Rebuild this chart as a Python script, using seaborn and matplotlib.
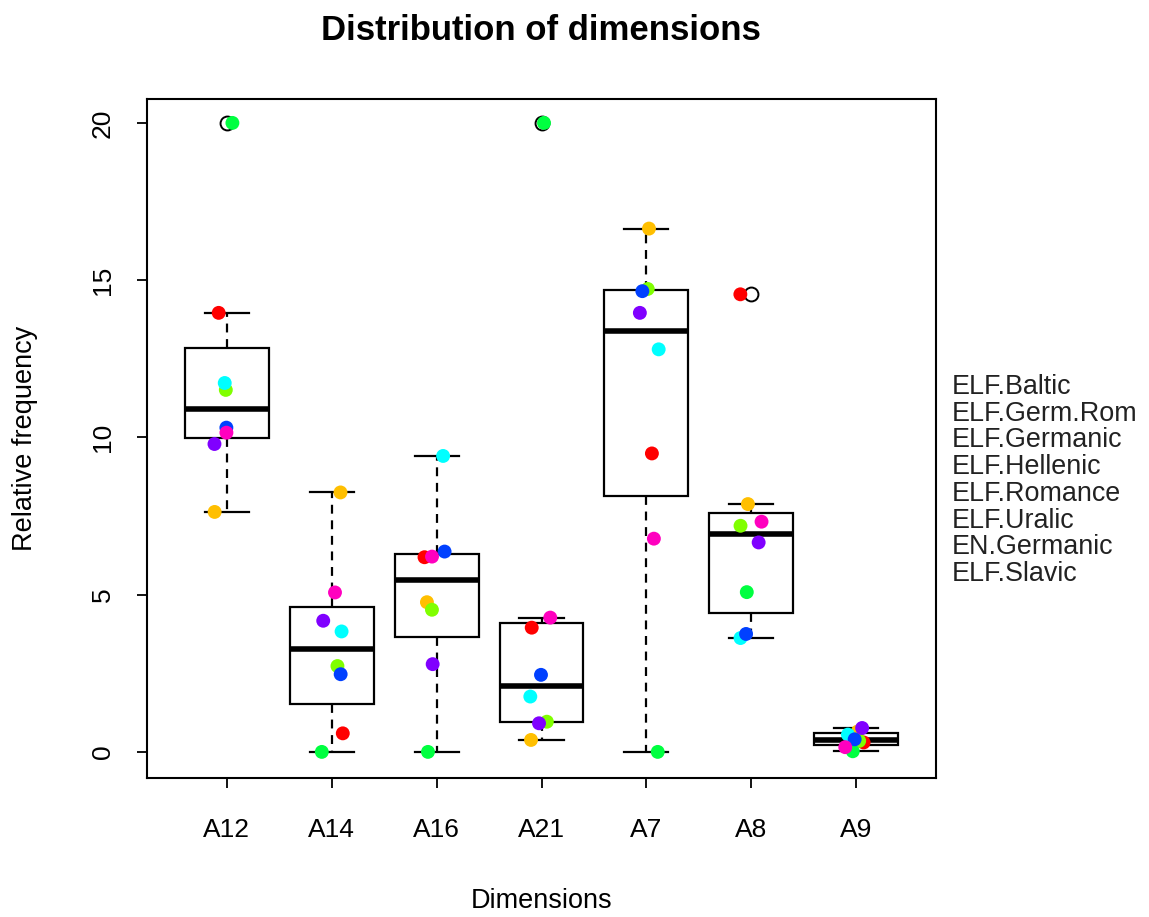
import numpy as np
import pandas as pd
import matplotlib
matplotlib.use("Agg")
import matplotlib.pyplot as plt
import seaborn as sns

# ---- data -------------------------------------------------------------
dims = ["A12", "A14", "A16", "A21", "A7", "A8", "A9"]
groups = ["ELF.Baltic", "ELF.Germ.Rom", "ELF.Germanic", "ELF.Hellenic",
          "ELF.Romance", "ELF.Uralic", "EN.Germanic", "ELF.Slavic"]
colors = ["#FF0000", "#FFBF00", "#80FF00", "#00FF40",
          "#00FFFF", "#0040FF", "#8000FF", "#FF00BF"]

elf_baltic   = [13.96, 0.59, 6.19, 3.95, 9.49, 14.55, 0.30]
elf_germrom  = [7.63, 8.25, 4.76, 0.38, 16.64, 7.88, 0.65]
elf_germanic = [11.51, 2.73, 4.52, 0.96, 14.72, 7.19, 0.35]
elf_hellenic = [20.0, 0.0, 0.0, 20.0, 0.0, 5.08, 0.02]
elf_romance  = [11.73, 3.83, 9.41, 1.76, 12.80, 3.62, 0.55]
elf_uralic   = [10.31, 2.47, 6.37, 2.45, 14.65, 3.75, 0.40]
en_germanic  = [9.79, 4.17, 2.79, 0.91, 13.96, 6.66, 0.76]
elf_slavic   = [10.15, 5.07, 6.21, 4.27, 6.78, 7.32, 0.15]

series = [elf_baltic, elf_germrom, elf_germanic, elf_hellenic,
          elf_romance, elf_uralic, en_germanic, elf_slavic]

rows = []
for g, vals in zip(groups, series):
    for d, v in zip(dims, vals):
        rows.append({"group": g, "dim": d, "value": v})
df = pd.DataFrame(rows)


# R-style box statistics (Tukey hinges via fivenum, 1.5*IQR whiskers)
def r_box_stats(x, coef=1.5):
    x = np.sort(np.asarray(x, dtype=float))
    n = len(x)
    n4 = np.floor((n + 3) / 2) / 2
    d = np.array([1, n4, (n + 1) / 2, n + 1 - n4, n]) - 1
    fn = 0.5 * (x[np.floor(d).astype(int)] + x[np.ceil(d).astype(int)])
    iqr = fn[3] - fn[1]
    lo, hi = fn[1] - coef * iqr, fn[3] + coef * iqr
    inside = x[(x >= lo) & (x <= hi)]
    out = x[(x < lo) | (x > hi)]
    return dict(med=fn[2], q1=fn[1], q3=fn[3],
                whislo=inside.min(), whishi=inside.max(), fliers=out)


stats = [r_box_stats(df.loc[df["dim"] == d, "value"]) for d in dims]

# ---- figure -----------------------------------------------------------
plt.rcParams["font.family"] = ["Liberation Sans", "DejaVu Sans"]
np.random.seed(11)

fig = plt.figure(figsize=(11.49, 9.17), dpi=100)
ax = fig.add_axes([147 / 1149, 1 - 778 / 917, (936 - 147) / 1149, (778 - 99) / 917])

sns.stripplot(data=df, x="dim", y="value", order=dims, hue="group",
              hue_order=groups, palette=colors, jitter=0.12, size=10,
              linewidth=0, legend=False, ax=ax, zorder=5)

ax.bxp(stats, positions=np.arange(len(dims)), widths=0.8, capwidths=0.42,
       patch_artist=True, manage_ticks=False, zorder=2,
       boxprops=dict(facecolor="white", edgecolor="black", linewidth=1.6),
       whiskerprops=dict(linestyle=(0, (4, 3)), linewidth=1.6, color="black"),
       capprops=dict(linewidth=1.6, color="black"),
       medianprops=dict(linewidth=4, color="black"),
       flierprops=dict(marker="o", markerfacecolor="none",
                       markeredgecolor="black", markersize=10,
                       markeredgewidth=1.4))

ax.set_xticks(np.arange(len(dims)))
ax.set_xticklabels(dims)
ax.set_xlim(-0.76, 6.76)
ax.set_ylim(-0.83, 20.76)
ax.set_yticks([0, 5, 10, 15, 20])
ax.set_yticklabels(["0", "5", "10", "15", "20"], rotation=90, va="center")
for s in ax.spines.values():
    s.set_visible(True)
    s.set_linewidth(1.5)
    s.set_color("black")
ax.tick_params(axis="both", length=7, width=1.3, labelsize=19, color="black")
ax.tick_params(axis="y", pad=16)
ax.tick_params(axis="x", pad=22)
ax.set_xlabel("Dimensions", fontsize=19.5, va="center")
ax.set_ylabel("Relative frequency", fontsize=19.5, va="center")
ax.xaxis.set_label_coords(0.5, -0.181)
ax.yaxis.set_label_coords(-0.155, 0.5)

fig.text(541 / 1149, 1 - 30 / 917, "Distribution of dimensions",
         ha="center", va="center", fontsize=25, fontweight="bold")

for i, g in enumerate(groups):
    fig.text(952 / 1149, 1 - (387 + 26.7 * i) / 917, g,
             ha="left", va="center", fontsize=19.4, color="#222222")

fig.savefig("out.png", dpi=100, facecolor="white")
